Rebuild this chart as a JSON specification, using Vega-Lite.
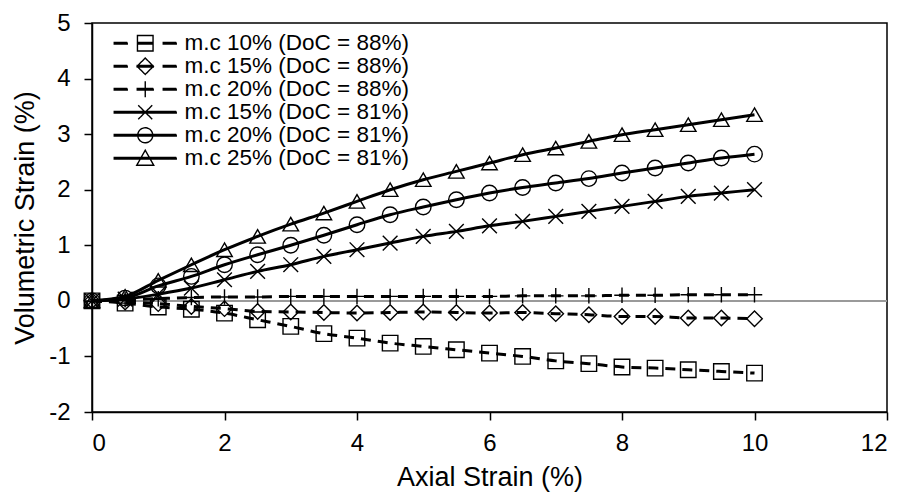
{
  "$schema": "https://vega.github.io/schema/vega-lite/v6.json",
  "width": 795,
  "height": 389,
  "autosize": "none",
  "padding": {"left": 92, "top": 23, "right": 27, "bottom": 83},
  "background": "white",
  "config": {
    "font": "Liberation Sans",
    "view": {"stroke": "black", "strokeWidth": 1.5},
    "axis": {
      "grid": false,
      "domainColor": "black",
      "domainWidth": 1.5,
      "tickColor": "black",
      "tickWidth": 1.5,
      "tickSize": 8,
      "labelColor": "black",
      "labelFontSize": 24,
      "titleColor": "black",
      "titleFontSize": 27,
      "titleFontWeight": "normal"
    },
    "legend": {
      "title": null,
      "orient": "none",
      "legendX": 42,
      "legendY": 9,
      "padding": 0,
      "symbolSize": 400,
      "symbolStrokeWidth": 1.3,
      "symbolStrokeColor": "black",
      "symbolFillColor": "transparent",
      "symbolOpacity": 1,
      "labelFontSize": 22.5,
      "labelColor": "black",
      "labelOffset": 28,
      "labelLimit": 400,
      "rowPadding": -3
    }
  },
  "data": {
    "values": [
      {"series": "m.c 10% (DoC = 88%)", "axial": 0, "vol": 0},
      {"series": "m.c 10% (DoC = 88%)", "axial": 0.5, "vol": -0.04},
      {"series": "m.c 10% (DoC = 88%)", "axial": 1, "vol": -0.11},
      {"series": "m.c 10% (DoC = 88%)", "axial": 1.5, "vol": -0.15},
      {"series": "m.c 10% (DoC = 88%)", "axial": 2, "vol": -0.22},
      {"series": "m.c 10% (DoC = 88%)", "axial": 2.5, "vol": -0.34},
      {"series": "m.c 10% (DoC = 88%)", "axial": 3, "vol": -0.46},
      {"series": "m.c 10% (DoC = 88%)", "axial": 3.5, "vol": -0.59},
      {"series": "m.c 10% (DoC = 88%)", "axial": 4, "vol": -0.67},
      {"series": "m.c 10% (DoC = 88%)", "axial": 4.5, "vol": -0.76},
      {"series": "m.c 10% (DoC = 88%)", "axial": 5, "vol": -0.82},
      {"series": "m.c 10% (DoC = 88%)", "axial": 5.5, "vol": -0.88},
      {"series": "m.c 10% (DoC = 88%)", "axial": 6, "vol": -0.94},
      {"series": "m.c 10% (DoC = 88%)", "axial": 6.5, "vol": -1.0},
      {"series": "m.c 10% (DoC = 88%)", "axial": 7, "vol": -1.08},
      {"series": "m.c 10% (DoC = 88%)", "axial": 7.5, "vol": -1.13},
      {"series": "m.c 10% (DoC = 88%)", "axial": 8, "vol": -1.19},
      {"series": "m.c 10% (DoC = 88%)", "axial": 8.5, "vol": -1.21},
      {"series": "m.c 10% (DoC = 88%)", "axial": 9, "vol": -1.24},
      {"series": "m.c 10% (DoC = 88%)", "axial": 9.5, "vol": -1.27},
      {"series": "m.c 10% (DoC = 88%)", "axial": 10, "vol": -1.3},

      {"series": "m.c 15% (DoC = 88%)", "axial": 0, "vol": 0},
      {"series": "m.c 15% (DoC = 88%)", "axial": 0.5, "vol": -0.02},
      {"series": "m.c 15% (DoC = 88%)", "axial": 1, "vol": -0.05},
      {"series": "m.c 15% (DoC = 88%)", "axial": 1.5, "vol": -0.1},
      {"series": "m.c 15% (DoC = 88%)", "axial": 2, "vol": -0.14},
      {"series": "m.c 15% (DoC = 88%)", "axial": 2.5, "vol": -0.19},
      {"series": "m.c 15% (DoC = 88%)", "axial": 3, "vol": -0.2},
      {"series": "m.c 15% (DoC = 88%)", "axial": 3.5, "vol": -0.21},
      {"series": "m.c 15% (DoC = 88%)", "axial": 4, "vol": -0.22},
      {"series": "m.c 15% (DoC = 88%)", "axial": 4.5, "vol": -0.21},
      {"series": "m.c 15% (DoC = 88%)", "axial": 5, "vol": -0.2},
      {"series": "m.c 15% (DoC = 88%)", "axial": 5.5, "vol": -0.21},
      {"series": "m.c 15% (DoC = 88%)", "axial": 6, "vol": -0.22},
      {"series": "m.c 15% (DoC = 88%)", "axial": 6.5, "vol": -0.21},
      {"series": "m.c 15% (DoC = 88%)", "axial": 7, "vol": -0.23},
      {"series": "m.c 15% (DoC = 88%)", "axial": 7.5, "vol": -0.25},
      {"series": "m.c 15% (DoC = 88%)", "axial": 8, "vol": -0.28},
      {"series": "m.c 15% (DoC = 88%)", "axial": 8.5, "vol": -0.28},
      {"series": "m.c 15% (DoC = 88%)", "axial": 9, "vol": -0.31},
      {"series": "m.c 15% (DoC = 88%)", "axial": 9.5, "vol": -0.31},
      {"series": "m.c 15% (DoC = 88%)", "axial": 10, "vol": -0.32},

      {"series": "m.c 20% (DoC = 88%)", "axial": 0, "vol": 0},
      {"series": "m.c 20% (DoC = 88%)", "axial": 0.5, "vol": 0.02},
      {"series": "m.c 20% (DoC = 88%)", "axial": 1, "vol": 0.04},
      {"series": "m.c 20% (DoC = 88%)", "axial": 1.5, "vol": 0.06},
      {"series": "m.c 20% (DoC = 88%)", "axial": 2, "vol": 0.07},
      {"series": "m.c 20% (DoC = 88%)", "axial": 2.5, "vol": 0.07},
      {"series": "m.c 20% (DoC = 88%)", "axial": 3, "vol": 0.08},
      {"series": "m.c 20% (DoC = 88%)", "axial": 3.5, "vol": 0.08},
      {"series": "m.c 20% (DoC = 88%)", "axial": 4, "vol": 0.08},
      {"series": "m.c 20% (DoC = 88%)", "axial": 4.5, "vol": 0.08},
      {"series": "m.c 20% (DoC = 88%)", "axial": 5, "vol": 0.08},
      {"series": "m.c 20% (DoC = 88%)", "axial": 5.5, "vol": 0.08},
      {"series": "m.c 20% (DoC = 88%)", "axial": 6, "vol": 0.08},
      {"series": "m.c 20% (DoC = 88%)", "axial": 6.5, "vol": 0.09},
      {"series": "m.c 20% (DoC = 88%)", "axial": 7, "vol": 0.09},
      {"series": "m.c 20% (DoC = 88%)", "axial": 7.5, "vol": 0.09},
      {"series": "m.c 20% (DoC = 88%)", "axial": 8, "vol": 0.1},
      {"series": "m.c 20% (DoC = 88%)", "axial": 8.5, "vol": 0.1},
      {"series": "m.c 20% (DoC = 88%)", "axial": 9, "vol": 0.11},
      {"series": "m.c 20% (DoC = 88%)", "axial": 9.5, "vol": 0.11},
      {"series": "m.c 20% (DoC = 88%)", "axial": 10, "vol": 0.11},

      {"series": "m.c 15% (DoC = 81%)", "axial": 0, "vol": 0},
      {"series": "m.c 15% (DoC = 81%)", "axial": 0.5, "vol": 0.03},
      {"series": "m.c 15% (DoC = 81%)", "axial": 1, "vol": 0.12},
      {"series": "m.c 15% (DoC = 81%)", "axial": 1.5, "vol": 0.23},
      {"series": "m.c 15% (DoC = 81%)", "axial": 2, "vol": 0.38},
      {"series": "m.c 15% (DoC = 81%)", "axial": 2.5, "vol": 0.53},
      {"series": "m.c 15% (DoC = 81%)", "axial": 3, "vol": 0.65},
      {"series": "m.c 15% (DoC = 81%)", "axial": 3.5, "vol": 0.8},
      {"series": "m.c 15% (DoC = 81%)", "axial": 4, "vol": 0.92},
      {"series": "m.c 15% (DoC = 81%)", "axial": 4.5, "vol": 1.04},
      {"series": "m.c 15% (DoC = 81%)", "axial": 5, "vol": 1.16},
      {"series": "m.c 15% (DoC = 81%)", "axial": 5.5, "vol": 1.25},
      {"series": "m.c 15% (DoC = 81%)", "axial": 6, "vol": 1.35},
      {"series": "m.c 15% (DoC = 81%)", "axial": 6.5, "vol": 1.43},
      {"series": "m.c 15% (DoC = 81%)", "axial": 7, "vol": 1.52},
      {"series": "m.c 15% (DoC = 81%)", "axial": 7.5, "vol": 1.61},
      {"series": "m.c 15% (DoC = 81%)", "axial": 8, "vol": 1.7},
      {"series": "m.c 15% (DoC = 81%)", "axial": 8.5, "vol": 1.79},
      {"series": "m.c 15% (DoC = 81%)", "axial": 9, "vol": 1.88},
      {"series": "m.c 15% (DoC = 81%)", "axial": 9.5, "vol": 1.94},
      {"series": "m.c 15% (DoC = 81%)", "axial": 10, "vol": 2.0},

      {"series": "m.c 20% (DoC = 81%)", "axial": 0, "vol": 0},
      {"series": "m.c 20% (DoC = 81%)", "axial": 0.5, "vol": 0.05},
      {"series": "m.c 20% (DoC = 81%)", "axial": 1, "vol": 0.27},
      {"series": "m.c 20% (DoC = 81%)", "axial": 1.5, "vol": 0.44},
      {"series": "m.c 20% (DoC = 81%)", "axial": 2, "vol": 0.65},
      {"series": "m.c 20% (DoC = 81%)", "axial": 2.5, "vol": 0.83},
      {"series": "m.c 20% (DoC = 81%)", "axial": 3, "vol": 1.0},
      {"series": "m.c 20% (DoC = 81%)", "axial": 3.5, "vol": 1.18},
      {"series": "m.c 20% (DoC = 81%)", "axial": 4, "vol": 1.37},
      {"series": "m.c 20% (DoC = 81%)", "axial": 4.5, "vol": 1.55},
      {"series": "m.c 20% (DoC = 81%)", "axial": 5, "vol": 1.69},
      {"series": "m.c 20% (DoC = 81%)", "axial": 5.5, "vol": 1.82},
      {"series": "m.c 20% (DoC = 81%)", "axial": 6, "vol": 1.94},
      {"series": "m.c 20% (DoC = 81%)", "axial": 6.5, "vol": 2.04},
      {"series": "m.c 20% (DoC = 81%)", "axial": 7, "vol": 2.12},
      {"series": "m.c 20% (DoC = 81%)", "axial": 7.5, "vol": 2.2},
      {"series": "m.c 20% (DoC = 81%)", "axial": 8, "vol": 2.3},
      {"series": "m.c 20% (DoC = 81%)", "axial": 8.5, "vol": 2.39},
      {"series": "m.c 20% (DoC = 81%)", "axial": 9, "vol": 2.48},
      {"series": "m.c 20% (DoC = 81%)", "axial": 9.5, "vol": 2.57},
      {"series": "m.c 20% (DoC = 81%)", "axial": 10, "vol": 2.64},

      {"series": "m.c 25% (DoC = 81%)", "axial": 0, "vol": 0},
      {"series": "m.c 25% (DoC = 81%)", "axial": 0.5, "vol": 0.08},
      {"series": "m.c 25% (DoC = 81%)", "axial": 1, "vol": 0.37},
      {"series": "m.c 25% (DoC = 81%)", "axial": 1.5, "vol": 0.65},
      {"series": "m.c 25% (DoC = 81%)", "axial": 2, "vol": 0.92},
      {"series": "m.c 25% (DoC = 81%)", "axial": 2.5, "vol": 1.16},
      {"series": "m.c 25% (DoC = 81%)", "axial": 3, "vol": 1.38},
      {"series": "m.c 25% (DoC = 81%)", "axial": 3.5, "vol": 1.58},
      {"series": "m.c 25% (DoC = 81%)", "axial": 4, "vol": 1.79},
      {"series": "m.c 25% (DoC = 81%)", "axial": 4.5, "vol": 2.0},
      {"series": "m.c 25% (DoC = 81%)", "axial": 5, "vol": 2.18},
      {"series": "m.c 25% (DoC = 81%)", "axial": 5.5, "vol": 2.33},
      {"series": "m.c 25% (DoC = 81%)", "axial": 6, "vol": 2.48},
      {"series": "m.c 25% (DoC = 81%)", "axial": 6.5, "vol": 2.63},
      {"series": "m.c 25% (DoC = 81%)", "axial": 7, "vol": 2.75},
      {"series": "m.c 25% (DoC = 81%)", "axial": 7.5, "vol": 2.87},
      {"series": "m.c 25% (DoC = 81%)", "axial": 8, "vol": 2.99},
      {"series": "m.c 25% (DoC = 81%)", "axial": 8.5, "vol": 3.08},
      {"series": "m.c 25% (DoC = 81%)", "axial": 9, "vol": 3.17},
      {"series": "m.c 25% (DoC = 81%)", "axial": 9.5, "vol": 3.26},
      {"series": "m.c 25% (DoC = 81%)", "axial": 10, "vol": 3.35}
    ]
  },
  "encoding": {
    "x": {
      "field": "axial",
      "type": "quantitative",
      "scale": {"domain": [0, 12], "nice": false},
      "axis": {"values": [0, 2, 4, 6, 8, 10, 12], "title": "Axial Strain (%)", "labelPadding": 11, "titlePadding": 9}
    },
    "y": {
      "field": "vol",
      "type": "quantitative",
      "scale": {"domain": [-2, 5], "nice": false},
      "axis": {"values": [-2, -1, 0, 1, 2, 3, 4, 5], "labelExpr": "datum.value + ''", "title": "Volumetric Strain (%)", "labelPadding": 14, "titlePadding": 9}
    }
  },
  "layer": [
    {
      "mark": {"type": "rule", "color": "#9a9a9a", "strokeWidth": 1.5},
      "encoding": {"y": {"datum": 0}, "x": {"datum": 0}, "x2": {"datum": 12}}
    },
    {
      "encoding": {
        "color": {
          "field": "series",
          "type": "nominal",
          "scale": {
            "domain": ["m.c 10% (DoC = 88%)", "m.c 15% (DoC = 88%)", "m.c 20% (DoC = 88%)", "m.c 15% (DoC = 81%)", "m.c 20% (DoC = 81%)", "m.c 25% (DoC = 81%)"],
            "range": ["black", "black", "black", "black", "black", "black"]
          },
          "legend": {
            "symbolType": "circle",
            "encode": {
              "symbols": {
                "update": {
                  "stroke": {"value": "black"},
                  "fill": {"value": "transparent"},
                  "strokeWidth": {"value": 1.4},
                  "strokeDash": {"value": [1, 0]},
                  "shape": {
                    "signal": "datum.value === 'm.c 10% (DoC = 88%)' ? 'M-3.1,-0.07H-1.8V0.07H-3.1ZM1.8,-0.07H3.1V0.07H1.8ZM-0.78,-0.07H0.78V0.07H-0.78ZM-0.78,-0.78H0.78V0.78H-0.78Z' : datum.value === 'm.c 15% (DoC = 88%)' ? 'M-3.1,-0.07H-1.8V0.07H-3.1ZM1.8,-0.07H3.1V0.07H1.8ZM-0.8,-0.07H0.8V0.07H-0.8ZM0,-0.82L0.82,0L0,0.82L-0.82,0Z' : datum.value === 'm.c 20% (DoC = 88%)' ? 'M-3.1,-0.07H-1.8V0.07H-3.1ZM1.8,-0.07H3.1V0.07H1.8ZM-0.8,-0.07H0.8V0.07H-0.8ZM0,-0.8V0.8' : datum.value === 'm.c 15% (DoC = 81%)' ? 'M-3.1,-0.07H3.1V0.07H-3.1ZM-0.7,-0.7L0.7,0.7M-0.7,0.7L0.7,-0.7' : datum.value === 'm.c 20% (DoC = 81%)' ? 'M-3.1,-0.07H3.1V0.07H-3.1ZM0.75,0A0.75,0.75,0,1,1,-0.75,0A0.75,0.75,0,1,1,0.75,0Z' : 'M-3.1,-0.07H3.1V0.07H-3.1ZM0,-0.8L0.85,0.7H-0.85Z'"
                  }
                }
              }
            }
          }
        }
      },
      "layer": [
        {
          "transform": [{"filter": {"field": "series", "oneOf": ["m.c 10% (DoC = 88%)", "m.c 15% (DoC = 88%)", "m.c 20% (DoC = 88%)"]}}],
          "mark": {"type": "line", "strokeWidth": 3, "strokeDash": [10, 7], "interpolate": "monotone"}
        },
        {
          "transform": [{"filter": {"field": "series", "oneOf": ["m.c 15% (DoC = 81%)", "m.c 20% (DoC = 81%)", "m.c 25% (DoC = 81%)"]}}],
          "mark": {"type": "line", "strokeWidth": 3, "interpolate": "monotone"}
        },
        {
          "transform": [{"filter": {"field": "series", "equal": "m.c 10% (DoC = 88%)"}}],
          "mark": {"type": "point", "shape": "square", "filled": false, "strokeWidth": 1.4, "size": 240, "opacity": 1}
        },
        {
          "transform": [{"filter": {"field": "series", "equal": "m.c 15% (DoC = 88%)"}}],
          "mark": {"type": "point", "shape": "diamond", "filled": false, "strokeWidth": 1.4, "size": 240, "opacity": 1}
        },
        {
          "transform": [{"filter": {"field": "series", "equal": "m.c 20% (DoC = 88%)"}}],
          "mark": {"type": "point", "shape": "M-1,0H1M0,-1V1", "filled": false, "strokeWidth": 1.4, "size": 240, "opacity": 1}
        },
        {
          "transform": [{"filter": {"field": "series", "equal": "m.c 15% (DoC = 81%)"}}],
          "mark": {"type": "point", "shape": "M-0.95,-0.95L0.95,0.95M-0.95,0.95L0.95,-0.95", "filled": false, "strokeWidth": 1.4, "size": 240, "opacity": 1}
        },
        {
          "transform": [{"filter": {"field": "series", "equal": "m.c 20% (DoC = 81%)"}}],
          "mark": {"type": "point", "shape": "circle", "filled": false, "strokeWidth": 1.4, "size": 240, "opacity": 1}
        },
        {
          "transform": [{"filter": {"field": "series", "equal": "m.c 25% (DoC = 81%)"}}],
          "mark": {"type": "point", "shape": "triangle-up", "filled": false, "strokeWidth": 1.4, "size": 240, "opacity": 1}
        }
      ]
    }
  ]
}
